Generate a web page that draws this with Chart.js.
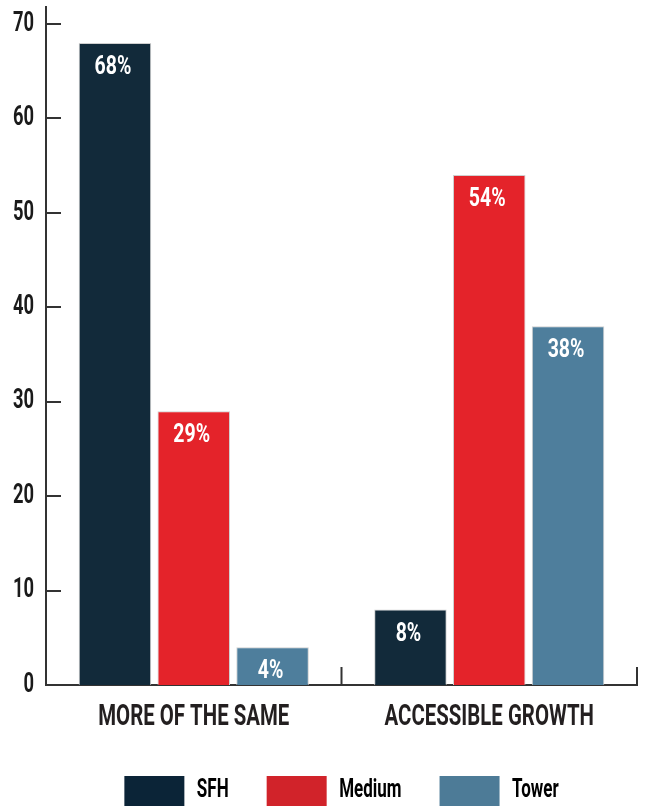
<!DOCTYPE html>
<html>
<head>
<meta charset="utf-8">
<script src="https://cdn.jsdelivr.net/npm/chart.js@4/dist/chart.umd.min.js"></script>
<style>
  html, body { margin: 0; padding: 0; background: #fff; overflow: hidden; }
  #wrap { width: 647px; height: 806px; position: relative; }
</style>
</head>
<body>
<div id="wrap"><canvas id="c"></canvas></div>
<script>
const categories = ["MORE OF THE SAME", "ACCESSIBLE GROWTH"];
const seriesNames = ["SFH", "Medium", "Tower"];
const sfhValues = [68, 8];
const mediumValues = [29, 54];
const towerValues = [4, 38];
const yTickValues = [0, 10, 20, 30, 40, 50, 60, 70];

const barColors = ["#122a3a", "#e4232a", "#4e7e9c"];
const legendColors = ["#0b2437", "#d1232a", "#4d7b97"];
const FONT = "Roboto, 'Liberation Sans', sans-serif";
const AXIS_COLOR = "#333333";

const seriesValues = [sfhValues, mediumValues, towerValues];

// Condensed text rendering: compress glyphs horizontally (DIN-condensed look)
const canvas = document.getElementById('c');
const ctx2d = canvas.getContext('2d');
let textScale = 0.68;
const origFill = ctx2d.fillText.bind(ctx2d);
const origMeasure = ctx2d.measureText.bind(ctx2d);
ctx2d.fillText = function (text, x, y, maxWidth) {
  ctx2d.save();
  ctx2d.translate(x, y);
  ctx2d.scale(textScale, 1);
  if (maxWidth !== undefined) origFill(text, 0, 0, maxWidth / textScale);
  else origFill(text, 0, 0);
  ctx2d.restore();
};
ctx2d.measureText = function (text) {
  const m = origMeasure(text);
  return {
    width: m.width * textScale,
    actualBoundingBoxAscent: m.actualBoundingBoxAscent,
    actualBoundingBoxDescent: m.actualBoundingBoxDescent,
    actualBoundingBoxLeft: m.actualBoundingBoxLeft * textScale,
    actualBoundingBoxRight: m.actualBoundingBoxRight * textScale
  };
};

const decorPlugin = {
  id: 'decor',
  afterDatasetsDraw(chart) {
    const ctx = chart.ctx;
    const area = chart.chartArea;
    const y = chart.scales.y;
    const x = chart.scales.x;
    ctx.save();
    ctx.strokeStyle = AXIS_COLOR;
    ctx.lineWidth = 2;
    yTickValues.forEach(v => {
      if (v === 0) return;
      const py = Math.round(y.getPixelForValue(v));
      ctx.beginPath();
      ctx.moveTo(area.left, py);
      ctx.lineTo(area.left + 15, py);
      ctx.stroke();
    });
    for (let i = 0; i < categories.length; i++) {
      const px = x.getPixelForValue(i + 0.5);
      ctx.beginPath();
      ctx.moveTo(px, area.bottom);
      ctx.lineTo(px, area.bottom - 18);
      ctx.stroke();
    }
    const prev = textScale;
    textScale = 0.78;
    ctx.fillStyle = "#ffffff";
    ctx.font = "bold 25px " + FONT;
    ctx.textAlign = "center";
    ctx.textBaseline = "middle";
    chart.data.datasets.forEach((ds, di) => {
      const meta = chart.getDatasetMeta(di);
      meta.data.forEach((el, i) => {
        ctx.fillText(ds.data[i] + "%", el.x - 2, el.y + 25);
      });
    });
    textScale = prev;
    ctx.restore();
  }
};

new Chart(canvas, {
  type: 'bar',
  data: {
    labels: categories,
    datasets: seriesNames.map((name, i) => ({
      label: name,
      data: seriesValues[i],
      backgroundColor: barColors[i],
      borderColor: "#cfcfcf",
      borderWidth: 1,
      barPercentage: 0.92,
      categoryPercentage: 0.8
    }))
  },
  options: {
    responsive: true,
    maintainAspectRatio: false,
    animation: false,
    layout: { padding: { top: 7, right: 10, bottom: -10, left: 0 } },
    plugins: {
      tooltip: { enabled: false },
      legend: {
        position: 'bottom',
        fullSize: false,
        labels: {
          boxWidth: 60,
          boxHeight: 30,
          padding: 38,
          color: "#231f20",
          font: { family: FONT, size: 25, weight: 'bold' },
          generateLabels(chart) {
            return seriesNames.map((n, i) => ({
              text: n,
              fillStyle: legendColors[i],
              strokeStyle: legendColors[i],
              lineWidth: 0,
              datasetIndex: i,
              hidden: false
            }));
          }
        }
      }
    },
    scales: {
      x: {
        grid: { display: false, drawTicks: false },
        border: { display: true, color: AXIS_COLOR, width: 2 },
        ticks: {
          color: "#231f20",
          padding: 14,
          font: { family: FONT, size: 30, weight: 'bold' },
          maxRotation: 0
        },
        afterFit(scale) {
          scale.height = 53;
          scale.paddingLeft = 0; scale.paddingRight = 0;
        }
      },
      y: {
        min: 0,
        max: 71.8,
        grid: { display: false, drawTicks: false },
        border: { display: true, color: AXIS_COLOR, width: 2 },
        afterBuildTicks(scale) {
          scale.ticks = yTickValues.map(v => ({ value: v }));
        },
        ticks: {
          color: "#1a1a1a",
          padding: 12,
          font: { family: FONT, size: 27, weight: 'bold' }
        },
        afterFit(scale) {
          scale.width = 46;
          scale.paddingTop = 0; scale.paddingBottom = 0;
        }
      }
    }
  },
  plugins: [decorPlugin]
});
</script>
</body>
</html>
